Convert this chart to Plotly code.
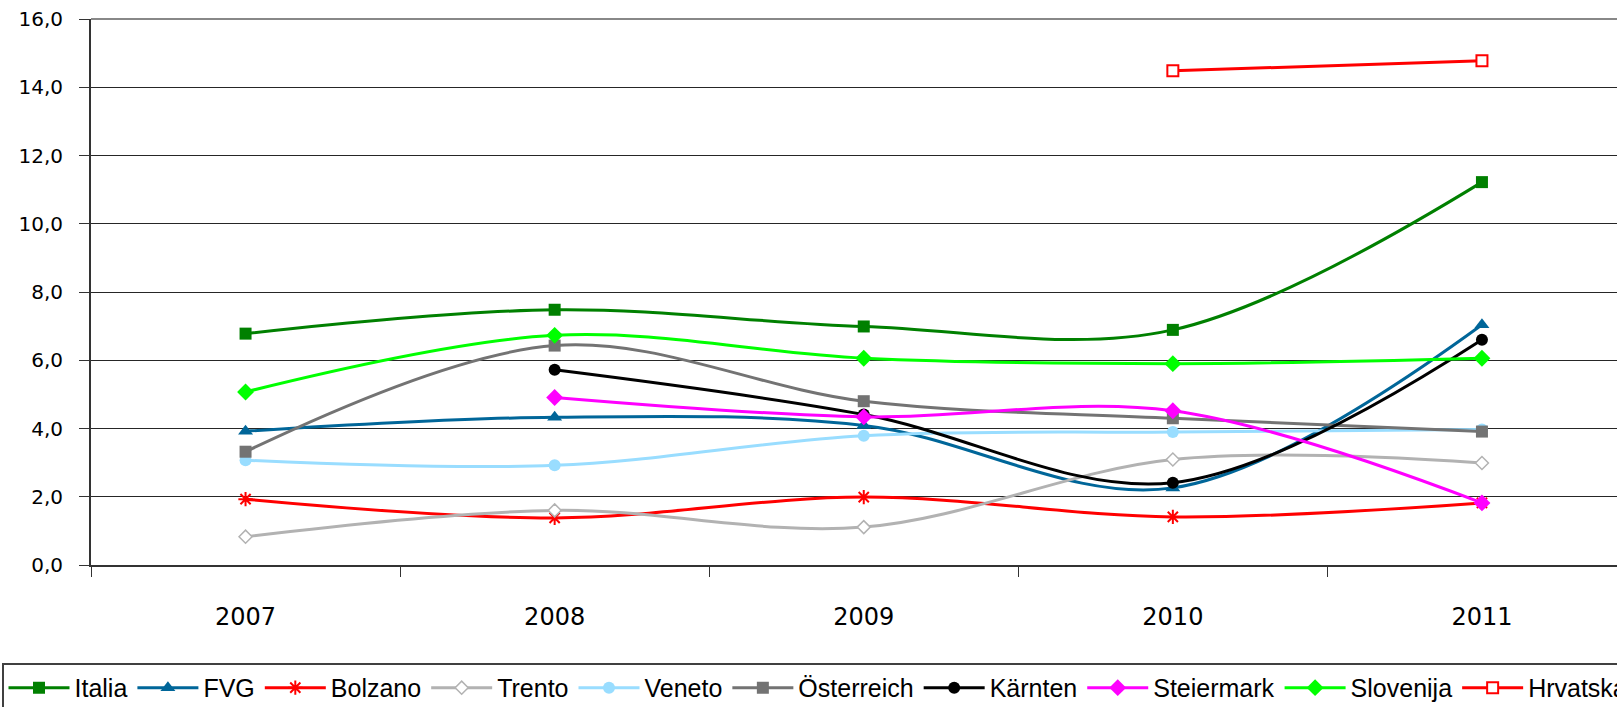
import plotly.graph_objects as go

# ---------------- data ----------------
years = ["2007", "2008", "2009", "2010", "2011"]
italia = [6.78, 7.48, 6.99, 6.89, 11.22]
fvg = [3.92, 4.33, 4.09, 2.26, 7.04]
bolzano = [1.93, 1.38, 1.99, 1.41, 1.82]
trento = [0.83, 1.60, 1.11, 3.09, 2.99]
veneto = [3.07, 2.92, 3.79, 3.90, 3.97]
oesterreich = [3.32, 6.43, 4.80, 4.30, 3.91]
kaernten = [None, 5.72, 4.41, 2.41, 6.60]
steiermark = [None, 4.91, 4.34, 4.52, 1.82]
slovenija = [5.07, 6.73, 6.06, 5.90, 6.06]
hrvatska = [None, None, None, 14.48, 14.78]

series_names = ["Italia", "FVG", "Bolzano", "Trento", "Veneto",
                "Österreich", "Kärnten", "Steiermark", "Slovenija", "Hrvatska"]
series_values = [italia, fvg, bolzano, trento, veneto,
                 oesterreich, kaernten, steiermark, slovenija, hrvatska]

# ---------------- styles ----------------
styles = {
    "Italia": dict(color="#008000", marker=dict(symbol="square", size=12, color="#008000")),
    "FVG": dict(color="#006699", marker=dict(symbol="triangle-up", size=13, color="#006699")),
    "Bolzano": dict(color="#FF0000", marker=dict(symbol="asterisk-open", size=12, color="#FF0000",
                                                 line=dict(width=2, color="#FF0000"))),
    "Trento": dict(color="#B2B2B2", marker=dict(symbol="diamond", size=10, color="white",
                                                line=dict(width=1.5, color="#B2B2B2"))),
    "Veneto": dict(color="#99DDFF", marker=dict(symbol="circle", size=12, color="#99DDFF")),
    "Österreich": dict(color="#737373", marker=dict(symbol="square", size=12, color="#737373")),
    "Kärnten": dict(color="#000000", marker=dict(symbol="circle", size=12, color="#000000")),
    "Steiermark": dict(color="#FF00FF", marker=dict(symbol="diamond", size=13, color="#FF00FF")),
    "Slovenija": dict(color="#00FF00", marker=dict(symbol="diamond", size=13, color="#00FF00")),
    "Hrvatska": dict(color="#FF0000", marker=dict(symbol="square", size=11, color="white",
                                                  line=dict(width=2, color="#FF0000"))),
}

fig = go.Figure()
for name, vals in zip(series_names, series_values):
    st = styles[name]
    fig.add_trace(go.Scatter(
        x=years, y=vals, name=name, mode="lines+markers",
        line=dict(color=st["color"], width=3, shape="spline", smoothing=1.0),
        marker=st["marker"],
    ))

# The reference chart is wider than the window and is cut at its right edge;
# the figure is drawn wider and the page clips it the same way.
W, H = 1760, 720
L, T, B_EDGE = 91, 19, 565.5
CAT_PX = 309.1                      # pixels per category
R_EDGE = 1720
x_hi = -0.5 + (R_EDGE - L) / CAT_PX

fig.update_layout(
    width=W, height=H,
    margin=dict(l=L, r=W - R_EDGE, t=T, b=H - B_EDGE, autoexpand=False),
    paper_bgcolor="white", plot_bgcolor="white",
    separators=",.",
    font=dict(family="DejaVu Sans, Verdana, sans-serif", color="black", size=20),
    showlegend=True,
    legend=dict(
        orientation="h",
        x=(2 - L) / (R_EDGE - L), xanchor="left",
        y=-(664 - B_EDGE) / (B_EDGE - T), yanchor="top",
        bordercolor="#404040", borderwidth=1.5,
        font=dict(family="Liberation Sans, Arial, sans-serif", size=25, color="black"),
        itemwidth=61,
        tracegroupgap=0,
    ),
    xaxis=dict(
        type="category", range=[-0.5, x_hi],
        showgrid=False, zeroline=False,
        showline=True, linecolor="#333333", linewidth=2,
        ticks="outside", tickson="boundaries", ticklen=10, tickcolor="#333333", tickwidth=1,
        tickfont=dict(size=24), ticklabelstandoff=29,
    ),
    yaxis=dict(
        range=[0, 16], dtick=2, tick0=0, tickformat=".1f",
        showgrid=True, gridcolor="#262626", gridwidth=1, zeroline=False,
        showline=True, linecolor="#333333", linewidth=2,
        ticks="outside", ticklen=10, tickcolor="#333333", tickwidth=1,
        tickfont=dict(size=20), ticklabelstandoff=12,
    ),
    shapes=[dict(type="line", xref="paper", yref="paper", x0=0, x1=1, y0=1, y1=1,
                 line=dict(color="#888888", width=2))],
)

fig.write_html(
    "out.html",
    config={"displayModeBar": False},
    post_script="document.body.style.margin='0';document.body.style.overflow='hidden';"
                "document.documentElement.style.overflow='hidden';",
)
